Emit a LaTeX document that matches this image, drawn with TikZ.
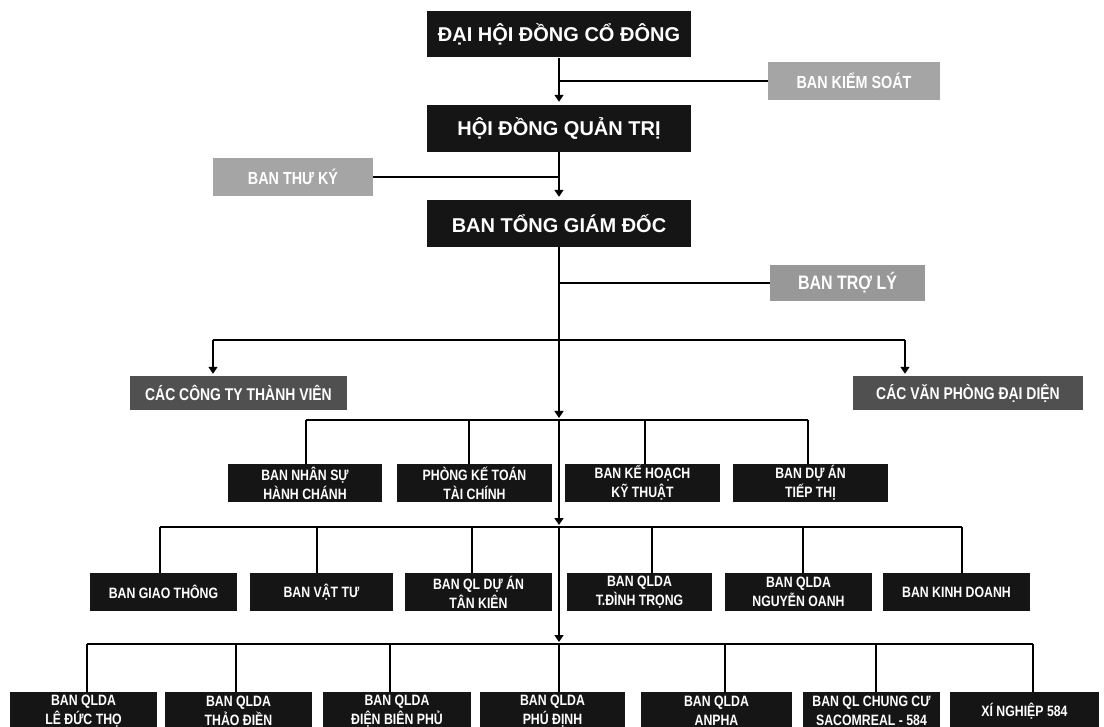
\documentclass[tikz,border=0pt]{standalone}
\usepackage{fontspec}
\setmainfont{Liberation Sans}
\newfontfamily\condf[FakeStretch=0.82]{Liberation Sans}
\usetikzlibrary{arrows.meta}
\definecolor{blk}{HTML}{151515}
\definecolor{lgry}{HTML}{A5A5A5}
\definecolor{mgry}{HTML}{989898}
\definecolor{dgry}{HTML}{505050}
\begin{document}
\begin{tikzpicture}[x=1pt,y=-1pt,
  ln/.style={line width=1.5pt, black},
  arw/.style={ln, -{Triangle[width=9pt,length=7pt]}},
  topbox/.style={fill=blk, text=white, inner sep=0pt, align=center,
    font=\bfseries\fontsize{20}{24}\selectfont},
  sidebox/.style={fill=lgry, text=white, inner sep=0pt, align=center,
    font=\condf\bfseries\fontsize{17.5}{20}\selectfont},
  midbox/.style={fill=dgry, text=white, inner sep=0pt, align=center,
    font=\condf\bfseries\fontsize{17}{20}\selectfont},
  unitbox/.style={fill=blk, text=white, inner sep=0pt, align=center,
    minimum height=38, font=\condf\bfseries\fontsize{15}{19}\selectfont}
]
\useasboundingbox (0,0) rectangle (1104,727);
\clip (0,0) rectangle (1104,727);

% top spine
\node[topbox, minimum width=264, minimum height=46] (dhcd) at (559,34.5) {ĐẠI HỘI ĐỒNG CỔ ĐÔNG};
\node[topbox, minimum width=264, minimum height=47] (hdqt) at (559,128.5) {HỘI ĐỒNG QUẢN TRỊ};
\node[topbox, minimum width=264, minimum height=47] (btgd) at (559,223.5) {BAN TỔNG GIÁM ĐỐC};

% side boxes
\node[sidebox, minimum width=172, minimum height=38] (bks) at (854,81) {BAN KIỂM SOÁT};
\node[sidebox, minimum width=160, minimum height=38] (btk) at (293,177) {BAN THƯ KÝ};
\node[sidebox, fill=mgry, minimum width=155, minimum height=36,
      font=\condf\bfseries\fontsize{19.5}{22}\selectfont] (btl) at (847.5,283) {BAN TRỢ LÝ};

% middle level
\node[midbox, minimum width=217, minimum height=34] (cty) at (238.5,393) {CÁC CÔNG TY THÀNH VIÊN};
\node[midbox, minimum width=230, minimum height=34] (vpdd) at (968,393) {CÁC VĂN PHÒNG ĐẠI DIỆN};

% row 2
\node[unitbox, minimum width=154] (r2a) at (305,483) {BAN NHÂN SỰ\\HÀNH CHÁNH};
\node[unitbox, minimum width=155] (r2b) at (474.5,483) {PHÒNG KẾ TOÁN\\TÀI CHÍNH};
\node[unitbox, minimum width=155] (r2c) at (642.5,483) {BAN KẾ HOẠCH\\KỸ THUẬT};
\node[unitbox, minimum width=155] (r2d) at (810.5,483) {BAN DỰ ÁN\\TIẾP THỊ};

% row 3
\node[unitbox, minimum width=147] (r3a) at (163.5,592) {BAN GIAO THÔNG};
\node[unitbox, minimum width=143] (r3b) at (321.5,592) {BAN VẬT TƯ};
\node[unitbox, minimum width=147] (r3c) at (478.5,592) {BAN QL DỰ ÁN\\TÂN KIÊN};
\node[unitbox, minimum width=145] (r3d) at (639.5,592) {BAN QLDA\\T.ĐÌNH TRỌNG};
\node[unitbox, minimum width=147] (r3e) at (798.5,592) {BAN QLDA\\NGUYỄN OANH};
\node[unitbox, minimum width=147] (r3f) at (956.5,592) {BAN KINH DOANH};

% row 4
\node[unitbox, minimum width=147] (r4a) at (83.5,711) {BAN QLDA\\LÊ ĐỨC THỌ};
\node[unitbox, minimum width=147] (r4b) at (238.5,711) {BAN QLDA\\THẢO ĐIỀN};
\node[unitbox, minimum width=148] (r4c) at (397,711) {BAN QLDA\\ĐIỆN BIÊN PHỦ};
\node[unitbox, minimum width=145] (r4d) at (552.5,711) {BAN QLDA\\PHÚ ĐỊNH};
\node[unitbox, minimum width=151] (r4e) at (716.5,711) {BAN QLDA\\ANPHA};
\node[unitbox, minimum width=137] (r4f) at (871.5,711) {BAN QL CHUNG CƯ\\SACOMREAL - 584};
\node[unitbox, minimum width=149] (r4g) at (1024.5,711) {XÍ NGHIỆP 584};

% spine connectors
\draw[arw, shorten >=3pt] (dhcd) -- (hdqt);
\draw[ln] (bks.west) -- (bks.west -| dhcd.south);
\draw[arw, shorten >=3pt] (hdqt) -- (btgd);
\draw[ln] (btk.east) -- (btk.east -| hdqt.south);
\draw[ln] (btl.west) -- (btl.west -| btgd.south);

% bus A
\coordinate (bAl) at (213,340);
\coordinate (bAr) at (905,340);
\draw[ln] (bAl) -- (bAr);
\draw[arw, shorten >=2pt] (bAl) -- (bAl |- cty.north);
\draw[arw, shorten >=2pt] (bAr) -- (bAr |- vpdd.north);

% bus 2
\coordinate (b2c) at (559,420);
\coordinate (b2l) at (306,420);
\coordinate (b2r) at (808,420);
\draw[arw, shorten >=2pt] (btgd) -- (b2c);
\draw[ln] (b2l) -- (b2r);
\foreach \n/\x in {r2a/306,r2b/469,r2c/645,r2d/808}{
  \coordinate (t) at (\x,420);
  \draw[ln] (t) -- (t |- \n.north);
}

% bus 3
\coordinate (b3c) at (559,527);
\coordinate (b3l) at (160,527);
\coordinate (b3r) at (962,527);
\draw[arw, shorten >=2pt] (b2c) -- (b3c);
\draw[ln] (b3l) -- (b3r);
\foreach \n/\x in {r3a/160,r3b/317,r3c/472,r3d/652,r3e/803,r3f/962}{
  \coordinate (t) at (\x,527);
  \draw[ln] (t) -- (t |- \n.north);
}

% bus 4
\coordinate (b4c) at (559,644);
\coordinate (b4l) at (87,644);
\coordinate (b4r) at (1033,644);
\draw[arw, shorten >=2pt] (b3c) -- (b4c);
\draw[ln] (b4l) -- (b4r);
\foreach \n/\x in {r4a/87,r4b/236,r4c/390,r4d/559,r4e/725,r4f/876,r4g/1033}{
  \coordinate (t) at (\x,644);
  \draw[ln] (t) -- (t |- \n.north);
}
\end{tikzpicture}
\end{document}
